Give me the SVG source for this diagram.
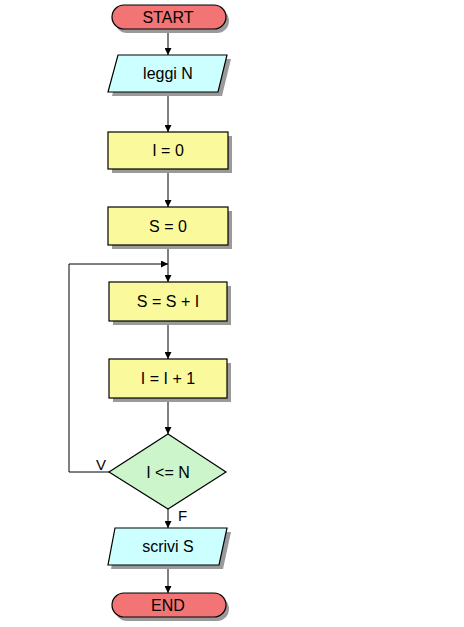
<svg xmlns="http://www.w3.org/2000/svg" width="464" height="627" viewBox="0 0 464 627">
<style>
.shadow{fill:#9a9a9a;stroke:none}
.term{fill:#f27474;stroke:#000;stroke-width:1.2}
.io{fill:#ccffff;stroke:#000;stroke-width:1.2}
.proc{fill:#fafa9c;stroke:#000;stroke-width:1.2}
.dec{fill:#ccf5cc;stroke:#000;stroke-width:1.2}
.lbl{font-family:"Liberation Sans",Arial,sans-serif;font-size:16px;fill:#000;text-anchor:middle}
.edge{font-family:"Liberation Sans",Arial,sans-serif;font-size:15px;fill:#000}
.conn{fill:none;stroke:#000;stroke-width:1}
</style>
<defs>
<marker id="arr" viewBox="0 0 10 10" refX="10" refY="5" markerWidth="7" markerHeight="7" markerUnits="userSpaceOnUse" orient="auto">
<path d="M0,0 L10,5 L0,10 Z" fill="#000"/>
</marker>
</defs>
<rect width="464" height="627" fill="#fff"/>
<g id="connectors">
<line class="conn" x1="168" y1="29" x2="168" y2="55" marker-end="url(#arr)"/>
<line class="conn" x1="168" y1="92" x2="168" y2="132" marker-end="url(#arr)"/>
<line class="conn" x1="168" y1="169" x2="168" y2="207" marker-end="url(#arr)"/>
<line class="conn" x1="168" y1="245" x2="168" y2="282" marker-end="url(#arr)"/>
<line class="conn" x1="168" y1="321" x2="168" y2="359" marker-end="url(#arr)"/>
<line class="conn" x1="168" y1="398" x2="168" y2="434" marker-end="url(#arr)"/>
<line class="conn" x1="168" y1="509" x2="168" y2="528" marker-end="url(#arr)"/>
<line class="conn" x1="168" y1="565" x2="168" y2="593" marker-end="url(#arr)"/>
<polyline class="conn" points="109,472 69,472 69,264 168,264" marker-end="url(#arr)"/>
<text class="edge" x="96" y="470">V</text>
<text class="edge" x="178" y="521">F</text>
</g>
<g id="start">
<rect class="shadow" x="115" y="9" width="114" height="24" rx="12"/>
<rect class="term" x="112" y="5" width="114" height="24" rx="12"/>
<text class="lbl" x="168" y="23">START</text>
</g>
<g id="leggiN">
<polygon class="shadow" points="121,59 231,59 222,96 112,96"/>
<polygon class="io" points="118,55 227,55 218,92 108,92"/>
<text class="lbl" x="168" y="79">leggi N</text>
</g>
<g id="i0">
<rect class="shadow" x="112" y="136" width="120" height="37"/>
<rect class="proc" x="108" y="132" width="120" height="37"/>
<text class="lbl" x="168" y="156">I = 0</text>
</g>
<g id="s0">
<rect class="shadow" x="112" y="211" width="120" height="38"/>
<rect class="proc" x="108" y="207" width="120" height="38"/>
<text class="lbl" x="168" y="232">S = 0</text>
</g>
<g id="ssi">
<rect class="shadow" x="113" y="286" width="118" height="39"/>
<rect class="proc" x="109" y="282" width="118" height="39"/>
<text class="lbl" x="168" y="307">S = S + I</text>
</g>
<g id="ii1">
<rect class="shadow" x="113" y="363" width="118" height="39"/>
<rect class="proc" x="109" y="359" width="118" height="39"/>
<text class="lbl" x="168" y="384">I = I + 1</text>
</g>
<g id="cond">
<polygon class="dec" points="168,434 226,472 168,509 109,472"/>
<text class="lbl" x="168" y="478">I &lt;= N</text>
</g>
<g id="scriviS">
<polygon class="shadow" points="118,532 231,532 223,569 111,569"/>
<polygon class="io" points="115,528 227,528 219,565 108,565"/>
<text class="lbl" x="168" y="552">scrivi S</text>
</g>
<g id="end">
<rect class="shadow" x="115" y="597" width="114" height="24" rx="12"/>
<rect class="term" x="112" y="593" width="114" height="24" rx="12"/>
<text class="lbl" x="168" y="611">END</text>
</g>
</svg>
